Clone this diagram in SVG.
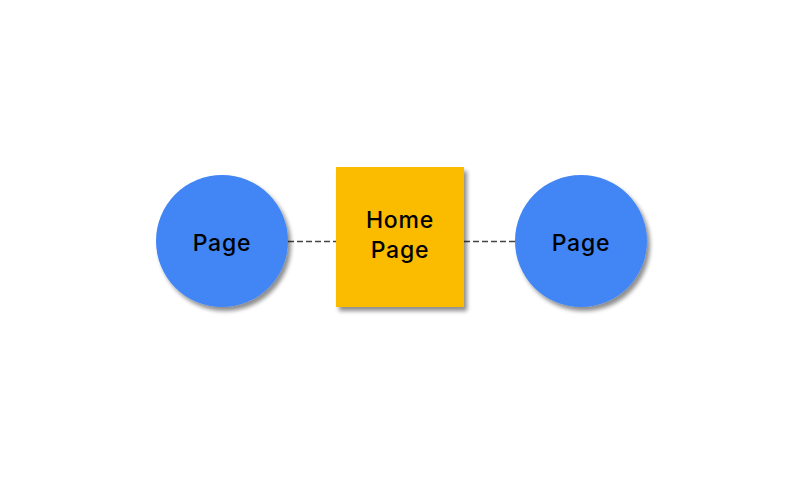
<svg xmlns="http://www.w3.org/2000/svg" width="800" height="484" viewBox="0 0 800 484">
<defs>
<filter id="sh" x="-20%" y="-20%" width="150%" height="150%">
<feGaussianBlur in="SourceAlpha" stdDeviation="2"/>
<feOffset dx="3" dy="4" result="b"/>
<feComponentTransfer><feFuncA type="linear" slope="0.45"/></feComponentTransfer>
<feMerge><feMergeNode/><feMergeNode in="SourceGraphic"/></feMerge>
</filter>
</defs>
<style>
.lbl{font-family:Inter,"Liberation Sans",sans-serif;font-size:23px;font-weight:500;letter-spacing:0.8px;fill:#000;text-anchor:middle}
.edge{stroke:#444;stroke-width:1.3;stroke-dasharray:6,3;fill:none}
</style>
<rect width="800" height="484" fill="#fff"/>
<g id="connectors">
<line class="edge" x1="288" y1="241.5" x2="336" y2="241.5"/>
<line class="edge" x1="464" y1="241.5" x2="515" y2="241.5"/>
</g>
<g id="page-left">
<circle cx="222" cy="241" r="66" fill="#4285F4" filter="url(#sh)"/>
<text class="lbl" x="222" y="251">Page</text>
</g>
<g id="home-page">
<rect x="336" y="167" width="128" height="140" fill="#FBBC05" filter="url(#sh)"/>
<text class="lbl" x="400" y="228">Home</text>
<text class="lbl" x="400" y="258">Page</text>
</g>
<g id="page-right">
<circle cx="581" cy="241" r="66" fill="#4285F4" filter="url(#sh)"/>
<text class="lbl" x="581" y="251">Page</text>
</g>
</svg>
